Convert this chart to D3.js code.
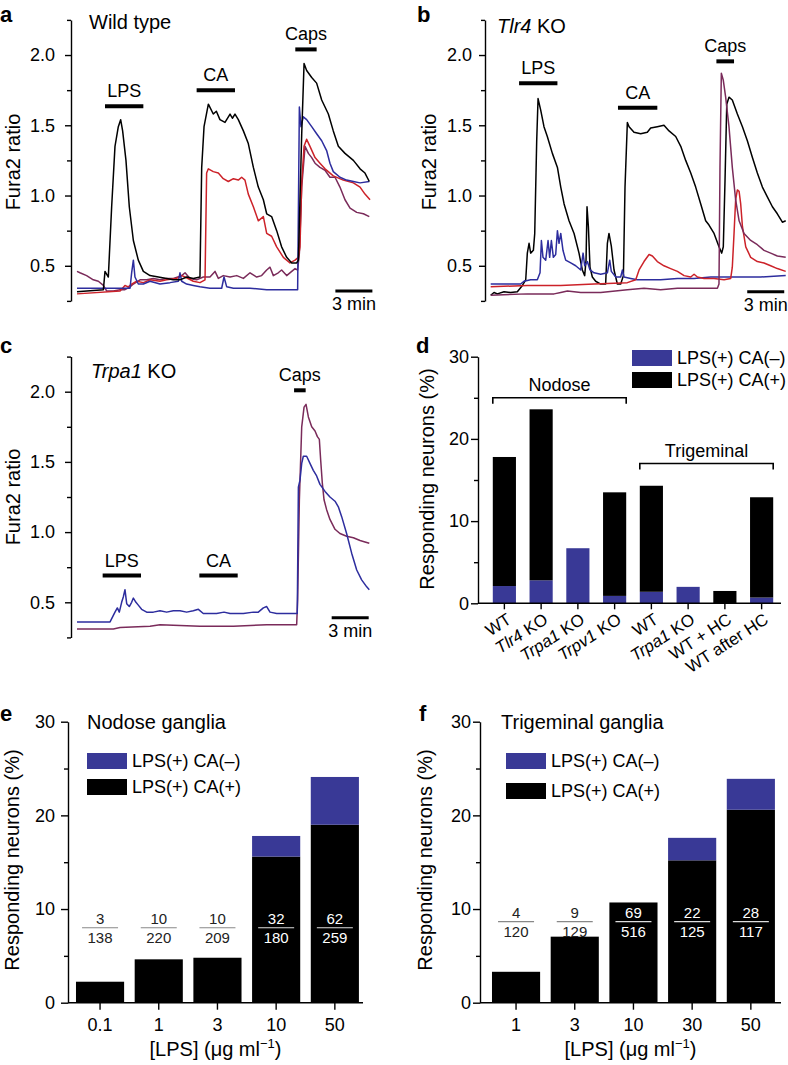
<!DOCTYPE html>
<html><head><meta charset="utf-8">
<script src="https://cdn.jsdelivr.net/npm/d3@7"></script>
<style>
body{margin:0;background:#fff}
svg text{font-family:"Liberation Sans",Arial,Helvetica,sans-serif;fill:#000}
</style></head><body>
<svg id="fig" width="788" height="1065"></svg>
<script>
// ---------------- DATA ----------------
// Traces: [time (min), Fura2 ratio]
const aBlack=[[0,0.315],[2.14,0.33],[2.27,0.46],[2.54,0.42],[2.81,0.92],[3.08,1.35],[3.35,1.49],[3.54,1.54],[3.70,1.46],[3.97,1.25],[4.24,0.92],[4.57,0.68],[4.97,0.54],[5.38,0.46],[5.92,0.43],[6.6,0.42],[7.27,0.41],[7.8,0.40],[8.35,0.40],[8.9,0.42],[9.43,0.41],[9.97,0.42],[10.11,1.20],[10.30,1.49],[10.65,1.65],[11.05,1.58],[11.30,1.60],[11.59,1.54],[12.0,1.52],[12.41,1.58],[12.6,1.55],[12.81,1.58],[13.08,1.54],[13.49,1.46],[13.89,1.37],[14.30,1.20],[14.70,1.06],[15.11,0.97],[15.38,0.87],[15.78,0.85],[16.19,0.75],[16.59,0.635],[17.0,0.56],[17.41,0.52],[17.81,0.52],[17.95,0.54],[18.22,1.44],[18.41,1.94],[18.62,1.89],[19.03,1.84],[19.43,1.80],[19.84,1.68],[20.38,1.58],[20.78,1.46],[21.19,1.35],[21.73,1.30],[22.41,1.25],[22.95,1.19],[23.35,1.16],[23.70,1.10]];
const aRed=[[0,0.30],[3.49,0.32],[3.89,0.36],[4.16,0.35],[4.43,0.37],[4.84,0.39],[5.38,0.38],[5.92,0.40],[6.73,0.39],[7.27,0.40],[8.08,0.41],[8.49,0.43],[8.76,0.42],[9.43,0.39],[9.97,0.38],[10.38,0.40],[10.51,1.16],[10.65,1.19],[11.05,1.17],[11.46,1.16],[11.86,1.12],[12.27,1.10],[12.68,1.12],[13.08,1.11],[13.35,1.13],[13.62,1.11],[13.89,1.01],[14.30,0.92],[14.70,0.82],[15.11,0.85],[15.38,0.73],[15.78,0.71],[16.19,0.635],[16.73,0.56],[17.27,0.52],[17.68,0.54],[17.95,0.56],[18.08,0.635],[18.22,1.09],[18.41,1.35],[18.62,1.40],[18.89,1.35],[19.30,1.27],[19.70,1.23],[20.11,1.19],[20.78,1.14],[21.59,1.11],[22.41,1.09],[22.95,1.06],[23.35,1.01],[23.76,0.97]];
const aBlue=[[0,0.34],[4.30,0.34],[4.43,0.45],[4.57,0.54],[4.70,0.42],[4.97,0.37],[5.38,0.37],[5.92,0.39],[6.73,0.37],[7.54,0.38],[8.22,0.39],[8.35,0.45],[8.49,0.39],[8.89,0.37],[9.43,0.36],[9.97,0.35],[10.78,0.34],[11.73,0.34],[11.92,0.42],[12.14,0.35],[12.68,0.34],[14.03,0.34],[15.38,0.33],[16.73,0.33],[17.89,0.33],[18.03,1.63],[18.16,1.49],[18.35,1.56],[18.62,1.54],[19.03,1.49],[19.43,1.44],[19.84,1.39],[20.24,1.32],[20.51,1.23],[20.78,1.17],[21.32,1.13],[21.86,1.11],[22.41,1.10],[22.95,1.09],[23.70,1.10]];
const aPurple=[[0,0.46],[0.24,0.45],[0.78,0.43],[1.32,0.40],[1.73,0.39],[2.14,0.36],[2.41,0.32],[2.95,0.32],[3.49,0.33],[3.89,0.33],[4.30,0.35],[4.57,0.37],[5.11,0.40],[5.65,0.40],[6.19,0.41],[6.73,0.40],[7.27,0.41],[7.81,0.41],[8.49,0.43],[8.76,0.45],[9.16,0.41],[9.70,0.40],[10.24,0.42],[10.78,0.42],[11.19,0.46],[11.46,0.41],[11.86,0.43],[12.41,0.42],[12.95,0.43],[13.49,0.41],[14.03,0.45],[14.57,0.42],[14.97,0.43],[15.38,0.47],[15.65,0.49],[15.92,0.43],[16.32,0.45],[16.59,0.47],[17.0,0.43],[17.41,0.46],[17.68,0.48],[17.89,0.47],[18.03,0.59],[18.22,1.06],[18.49,1.35],[18.76,1.30],[19.03,1.27],[19.30,1.23],[19.70,1.20],[20.11,1.18],[20.51,1.13],[20.92,1.13],[21.32,1.06],[21.73,0.97],[22.14,0.91],[22.68,0.88],[23.22,0.87],[23.70,0.85]];

const bBlack=[[0,0.29],[0.27,0.31],[0.54,0.30],[1.08,0.315],[1.62,0.31],[2.16,0.315],[2.57,0.36],[2.84,0.40],[2.97,0.59],[3.11,0.66],[3.24,0.59],[3.46,0.61],[3.57,0.73],[3.73,1.39],[3.84,1.69],[4.05,1.61],[4.32,1.49],[4.59,1.42],[5.0,1.30],[5.41,1.20],[5.68,1.06],[5.95,0.94],[6.35,0.82],[6.76,0.73],[7.16,0.59],[7.43,0.47],[7.62,0.43],[7.73,0.54],[7.81,0.92],[7.92,0.78],[8.05,0.49],[8.24,0.42],[8.51,0.39],[8.92,0.37],[9.32,0.37],[9.46,0.66],[9.59,0.73],[9.78,0.64],[10.0,0.47],[10.27,0.37],[10.54,0.37],[10.76,0.43],[10.89,1.06],[11.08,1.52],[11.22,1.49],[11.62,1.45],[12.16,1.44],[12.70,1.45],[12.97,1.48],[13.51,1.49],[14.05,1.50],[14.46,1.46],[15.0,1.42],[15.41,1.35],[15.81,1.25],[16.22,1.16],[16.62,1.06],[17.03,0.94],[17.43,0.82],[17.70,0.79],[18.11,0.73],[18.51,0.635],[18.73,0.59],[18.86,0.635],[19.0,1.11],[19.14,1.65],[19.32,1.70],[19.59,1.68],[20.0,1.58],[20.41,1.49],[20.81,1.39],[21.22,1.27],[21.62,1.16],[22.03,1.06],[22.43,0.99],[22.84,0.92],[23.24,0.87],[23.65,0.81],[23.92,0.82]];
const bBlue=[[0,0.37],[2.43,0.37],[2.70,0.39],[3.24,0.40],[3.78,0.40],[4.0,0.45],[4.11,0.68],[4.24,0.56],[4.46,0.54],[4.65,0.68],[4.78,0.56],[4.92,0.68],[5.08,0.56],[5.27,0.58],[5.41,0.75],[5.54,0.66],[5.68,0.73],[5.86,0.61],[6.08,0.54],[6.49,0.52],[6.89,0.50],[7.30,0.47],[7.49,0.59],[7.62,0.50],[7.84,0.53],[8.05,0.47],[8.38,0.45],[8.92,0.44],[9.46,0.45],[9.65,0.54],[9.78,0.46],[10.14,0.42],[10.54,0.42],[10.68,0.47],[10.81,0.42],[11.35,0.41],[11.89,0.40],[12.70,0.40],[13.78,0.40],[15.14,0.41],[16.49,0.41],[17.84,0.42],[19.19,0.42],[20.54,0.42],[21.89,0.42],[23.92,0.43]];
const bRed=[[0,0.35],[2.97,0.36],[5.68,0.36],[8.38,0.37],[11.08,0.38],[11.76,0.40],[12.03,0.47],[12.43,0.53],[12.84,0.58],[13.11,0.57],[13.51,0.53],[14.05,0.50],[14.59,0.48],[15.14,0.46],[15.68,0.43],[16.22,0.42],[16.49,0.44],[16.76,0.42],[17.30,0.41],[18.11,0.41],[18.92,0.40],[19.46,0.41],[19.59,0.49],[19.73,0.73],[19.86,0.97],[20.0,1.04],[20.14,1.03],[20.27,0.94],[20.41,0.78],[20.68,0.635],[21.08,0.56],[21.62,0.53],[22.16,0.52],[22.70,0.50],[23.24,0.48],[23.92,0.46]];
const bPurple=[[0,0.29],[2.97,0.30],[5.14,0.30],[5.68,0.31],[6.22,0.32],[7.30,0.31],[8.92,0.31],[11.08,0.33],[12.43,0.34],[13.78,0.33],[15.14,0.34],[16.49,0.34],[18.38,0.34],[18.51,0.37],[18.59,1.20],[18.70,1.87],[18.86,1.82],[19.05,1.70],[19.32,1.49],[19.59,1.20],[19.86,0.97],[20.14,0.82],[20.54,0.73],[21.08,0.68],[21.62,0.65],[22.16,0.61],[22.70,0.59],[23.24,0.57],[23.92,0.56]];

const cBlue=[[0,0.36],[2.68,0.36],[3.08,0.43],[3.27,0.46],[3.43,0.43],[3.62,0.50],[3.76,0.54],[3.89,0.59],[4.03,0.49],[4.24,0.47],[4.43,0.50],[4.57,0.53],[4.78,0.50],[4.97,0.48],[5.24,0.45],[5.65,0.43],[6.19,0.43],[6.73,0.44],[7.27,0.43],[7.81,0.44],[8.35,0.44],[8.89,0.43],[9.43,0.44],[9.84,0.45],[10.24,0.42],[10.78,0.42],[11.32,0.42],[11.92,0.43],[12.41,0.42],[12.95,0.42],[13.49,0.42],[14.30,0.43],[14.70,0.43],[15.11,0.46],[15.38,0.47],[15.65,0.43],[16.19,0.42],[16.73,0.42],[17.27,0.42],[17.68,0.42],[17.86,0.42],[17.95,1.32],[18.08,1.37],[18.22,1.49],[18.35,1.54],[18.62,1.54],[18.89,1.49],[19.16,1.44],[19.43,1.40],[19.70,1.34],[20.11,1.29],[20.51,1.25],[20.92,1.22],[21.19,1.18],[21.46,1.11],[21.86,0.99],[22.27,0.85],[22.68,0.73],[23.08,0.66],[23.49,0.61],[23.70,0.59]];
const cPurple=[[0,0.31],[2.95,0.31],[3.49,0.32],[5.92,0.33],[6.73,0.34],[9.97,0.33],[12.68,0.33],[15.38,0.34],[17.81,0.34],[17.89,0.52],[18.03,1.23],[18.22,1.75],[18.41,1.89],[18.57,1.91],[18.76,1.82],[19.03,1.75],[19.30,1.72],[19.49,1.68],[19.65,1.66],[19.76,1.51],[19.89,1.35],[20.03,1.23],[20.24,1.16],[20.51,1.09],[20.92,1.02],[21.32,0.99],[21.86,0.97],[22.41,0.96],[22.95,0.94],[23.35,0.93],[23.70,0.92]];

// Stimulus bars: label, start (min), end (min), level (ratio)
const stimLabels=["LPS","CA","Caps"];
const aStimStart=[2.27,9.70,17.70], aStimEnd=[5.38,12.81,19.43], aStimLevel=[1.635,1.75,2.04];
const bStimStart=[2.30,10.32,18.30], bStimEnd=[5.41,13.51,19.73], bStimLevel=[1.80,1.625,1.955];
const cStimStart=[2.08,9.92,17.60], cStimEnd=[5.19,13.03,18.54], cStimLevel=[0.69,0.69,2.01];
// 3-min scale bars: start (min), level (ratio)
const scaleStart=[20.95,20.8,20.65], scaleLevel=[0.32,0.315,0.39];
const ratioTicks=[0.5,1.0,1.5,2.0], ratioMinor=[0.25,0.75,1.25,1.75,2.25];

// Panel d
const dLabels=["WT","Tlr4 KO","Trpa1 KO","Trpv1 KO","WT","Trpa1 KO","WT + HC","WT after HC"];
const dCaNeg=[2.1,2.8,6.7,0.9,1.4,2.0,0,0.7];
const dCaPos=[15.7,20.8,0,12.6,12.9,0,1.5,12.2];
// Panels e, f
const eDose=["0.1","1","3","10","50"];
const eCaPos=[2.24,4.63,4.8,15.6,19.0];
const eCaNeg=[0,0,0,2.2,5.1];
const eNum=[3,10,10,32,62], eDen=[138,220,209,180,259];
const fDose=["1","3","10","30","50"];
const fCaPos=[3.3,7.05,10.7,15.2,20.6];
const fCaNeg=[0,0,0,2.4,3.3];
const fNum=[4,9,69,22,28], fDen=[120,129,516,125,117];
const pctTicks=[0,10,20,30], pctMinor=[5,15,25];
const legendLabels=["LPS(+) CA(\u2013)","LPS(+) CA(+)"];

// ---------------- DRAW ----------------
const C={red:"#cc2229",blue:"#2d2d9e",purple:"#7a2b5a",barBlue:"#393996"};
const svg=d3.select("#fig");

function styleAxis(ax){
  ax.selectAll("path,line").attr("stroke","#000").attr("stroke-width",1.4);
  ax.selectAll("text").attr("font-size",18).attr("font-family",null).attr("fill","#000");
  ax.attr("font-family",null);
}
function letter(t,x,y){svg.append("text").attr("x",x).attr("y",y).attr("font-size",22).attr("font-weight","bold").text(t);}
function yTitle(t,x,y){svg.append("text").attr("transform",`translate(${x},${y}) rotate(-90)`).attr("text-anchor","middle").attr("font-size",20).text(t);}

function tracePanel(o){
  const x=d3.scaleLinear([0,24],[o.x0,o.x0+296]);
  const y=d3.scaleLinear([0.25,2.25],[o.yb,o.yt]);
  const g=svg.append("g");
  const ax=g.append("g").attr("transform",`translate(${o.ax},0)`)
    .call(d3.axisLeft(y).tickValues(ratioTicks).tickFormat(d3.format(".1f")).tickSize(6).tickSizeOuter(0).tickPadding(o.pad));
  styleAxis(ax);
  const mn=g.append("g").attr("transform",`translate(${o.ax},0)`)
    .call(d3.axisLeft(y).tickValues(ratioMinor).tickFormat("").tickSize(4).tickSizeOuter(0));
  mn.select(".domain").remove(); styleAxis(mn);
  const line=d3.line().x(d=>x(d[0])).y(d=>y(d[1]));
  o.traces.forEach(([data,col])=>g.append("path").attr("d",line(data)).attr("fill","none")
    .attr("stroke",col).attr("stroke-width",1.5).attr("stroke-linejoin","round"));
  stimLabels.forEach((lab,i)=>{
    const x1=x(o.s0[i]),x2=x(o.s1[i]),yy=y(o.sl[i]);
    g.append("line").attr("x1",x1).attr("x2",x2).attr("y1",yy).attr("y2",yy).attr("stroke","#000").attr("stroke-width",4);
    g.append("text").attr("x",(x1+x2)/2).attr("y",yy-9).attr("text-anchor","middle").attr("font-size",18).text(lab);
  });
  const sx=x(scaleStart[o.k]), sy=y(scaleLevel[o.k]);
  g.append("line").attr("x1",sx).attr("x2",x(scaleStart[o.k]+3)).attr("y1",sy).attr("y2",sy).attr("stroke","#000").attr("stroke-width",3);
  g.append("text").attr("x",(sx+x(scaleStart[o.k]+3))/2).attr("y",sy+19).attr("text-anchor","middle").attr("font-size",18).text("3 min");
  const t=svg.append("text").attr("x",o.tx).attr("y",o.ty).attr("font-size",20);
  if(o.gene){t.append("tspan").attr("font-style","italic").text(o.gene);t.append("tspan").text(" KO");}
  else t.text(o.title);
  yTitle("Fura2 ratio",o.ytx,o.yty);
  letter(o.letter,o.lx,o.ly);
}

tracePanel({k:0,x0:77,ax:71,pad:10,yb:300.9,yt:19.9,traces:[[aPurple,C.purple],[aRed,C.red],[aBlue,C.blue],[aBlack,"#000"]],
  s0:aStimStart,s1:aStimEnd,sl:aStimLevel,title:"Wild type",tx:89,ty:29,ytx:20,yty:162,letter:"a",lx:0,ly:22});
tracePanel({k:1,x0:490.7,ax:485,pad:7,yb:300.9,yt:19.9,traces:[[bBlack,"#000"],[bBlue,C.blue],[bRed,C.red],[bPurple,C.purple]],
  s0:bStimStart,s1:bStimEnd,sl:bStimLevel,gene:"Tlr4",tx:497,ty:33,ytx:436,yty:162,letter:"b",lx:417,ly:22});
tracePanel({k:2,x0:77,ax:71,pad:10,yb:637.4,yt:356.6,traces:[[cPurple,C.purple],[cBlue,C.blue]],
  s0:cStimStart,s1:cStimEnd,sl:cStimLevel,gene:"Trpa1",tx:91,ty:378,ytx:20,yty:497,letter:"c",lx:0,ly:353});

function legend(x,y1,y2,tx){
  [[C.barBlue,y1],["#000",y2]].forEach(([c,yy],i)=>{
    svg.append("rect").attr("x",x).attr("y",yy).attr("width",40).attr("height",16).attr("fill",c);
    svg.append("text").attr("x",tx).attr("y",yy+14).attr("font-size",18).text(legendLabels[i]);
  });
}
function pctAxis(g,y,ax,pad){
  const a=g.append("g").attr("transform",`translate(${ax},0)`)
    .call(d3.axisLeft(y).tickValues(pctTicks).tickSize(7).tickSizeOuter(0).tickPadding(pad));
  styleAxis(a);
  const m=g.append("g").attr("transform",`translate(${ax},0)`)
    .call(d3.axisLeft(y).tickValues(pctMinor).tickFormat("").tickSize(4).tickSizeOuter(0));
  m.select(".domain").remove(); styleAxis(m);
}

// Panel d
(function(){
  const g=svg.append("g");
  const y=d3.scaleLinear([0,30],[603.3,356.7]);
  const x=d3.scaleBand(d3.range(dLabels.length),[486,780]).paddingInner(0.37).paddingOuter(0.185);
  const bw=x.bandwidth();
  dLabels.forEach((l,i)=>{
    if(dCaNeg[i]>0) g.append("rect").attr("x",x(i)).attr("width",bw).attr("y",y(dCaNeg[i])).attr("height",y(0)-y(dCaNeg[i])).attr("fill",C.barBlue);
    if(dCaPos[i]>0) g.append("rect").attr("x",x(i)).attr("width",bw).attr("y",y(dCaNeg[i]+dCaPos[i])).attr("height",y(dCaNeg[i])-y(dCaNeg[i]+dCaPos[i])).attr("fill","#000");
  });
  pctAxis(g,y,478,2);
  g.append("line").attr("x1",478).attr("x2",781).attr("y1",y(0)).attr("y2",y(0)).attr("stroke","#000").attr("stroke-width",1.4);
  dLabels.forEach((l,i)=>{
    const cx=x(i)+bw/2;
    g.append("line").attr("x1",cx).attr("x2",cx).attr("y1",y(0)).attr("y2",y(0)+6).attr("stroke","#000").attr("stroke-width",1.4);
    const t=g.append("text").attr("transform",`translate(${cx+8},${y(0)+19}) rotate(-33)`).attr("text-anchor","end").attr("font-size",17);
    if(l.endsWith(" KO")){t.append("tspan").attr("font-style","italic").text(l.replace(" KO",""));t.append("tspan").text(" KO");}
    else t.text(l);
  });
  // brackets
  [[0,3,25,"Nodose"],[4,7,17,"Trigeminal"]].forEach(([i0,i1,v,lab])=>{
    const x1=x(i0),x2=x(i1)+bw,yy=y(v);
    g.append("path").attr("d",`M${x1},${yy+6}V${yy}H${x2}V${yy+6}`).attr("fill","none").attr("stroke","#000").attr("stroke-width",1.6);
    g.append("text").attr("x",(x1+x2)/2).attr("y",yy-7).attr("text-anchor","middle").attr("font-size",18).text(lab);
  });
  legend(632,350,372,677);
  yTitle("Responding neurons (%)",434,479);
  letter("d",416,353);
})();

function dosePanel(o){
  const g=svg.append("g");
  const y=d3.scaleLinear([0,30],[1002.7,721.7]);
  const x=d3.scaleBand(o.dose,[o.r0,o.r1]).paddingInner(0.18).paddingOuter(0.09);
  const bw=x.bandwidth();
  o.dose.forEach((d,i)=>{
    g.append("rect").attr("x",x(d)).attr("width",bw).attr("y",y(o.pos[i])).attr("height",y(0)-y(o.pos[i])).attr("fill","#000");
    if(o.neg[i]>0) g.append("rect").attr("x",x(d)).attr("width",bw).attr("y",y(o.pos[i]+o.neg[i])).attr("height",y(o.pos[i])-y(o.pos[i]+o.neg[i])).attr("fill",C.barBlue);
  });
  pctAxis(g,y,o.ax,o.pad);
  const xa=g.append("g").attr("transform",`translate(0,${y(0)})`)
    .call(d3.axisBottom(x).tickSize(7).tickSizeOuter(0).tickPadding(9));
  xa.select(".domain").remove(); styleAxis(xa);
  g.append("line").attr("x1",o.ax).attr("x2",o.xe).attr("y1",y(0)).attr("y2",y(0)).attr("stroke","#000").attr("stroke-width",1.4);
  // fractions
  o.dose.forEach((d,i)=>{
    const cx=x(d)+bw/2, ly=y(o.fl);
    const inside=(o.pos[i]+o.neg[i])>o.fl+2;
    const tc=inside?"#fff":"#222", lc=inside?"#ddd":"#888";
    g.append("line").attr("x1",cx-18).attr("x2",cx+18).attr("y1",ly).attr("y2",ly).attr("stroke",lc).attr("stroke-width",1.2);
    g.append("text").attr("x",cx).attr("y",ly-4).attr("text-anchor","middle").attr("font-size",15).style("fill",tc).text(o.num[i]);
    g.append("text").attr("x",cx).attr("y",ly+15).attr("text-anchor","middle").attr("font-size",15).style("fill",tc).text(o.den[i]);
  });
  const xt=g.append("text").attr("x",(o.ax+o.xe)/2).attr("y",1056).attr("text-anchor","middle").attr("font-size",20);
  xt.append("tspan").text("[LPS] (\u03bcg ml");
  xt.append("tspan").attr("font-size",13).attr("dy",-8).text("\u22121");
  xt.append("tspan").attr("dy",8).text(")");
  svg.append("text").attr("x",o.tx).attr("y",729).attr("font-size",20).text(o.title);
  legend(o.lgx,753,o.lgy2,o.lgx+45);
  yTitle("Responding neurons (%)",o.ytx,860);
  letter(o.letter,o.lx,721);
}
dosePanel({dose:eDose,pos:eCaPos,neg:eCaNeg,num:eNum,den:eDen,r0:70.7,r1:364.2,ax:68,xe:363,pad:6,fl:8.0,
  title:"Nodose ganglia",tx:87,lgx:87,lgy2:779,ytx:19,letter:"e",lx:0});
dosePanel({dose:fDose,pos:fCaPos,neg:fCaNeg,num:fNum,den:fDen,r0:486.7,r1:780.2,ax:480,xe:781,pad:2,fl:8.65,
  title:"Trigeminal ganglia",tx:501,lgx:506,lgy2:783,ytx:432,letter:"f",lx:419});
</script></body></html>
